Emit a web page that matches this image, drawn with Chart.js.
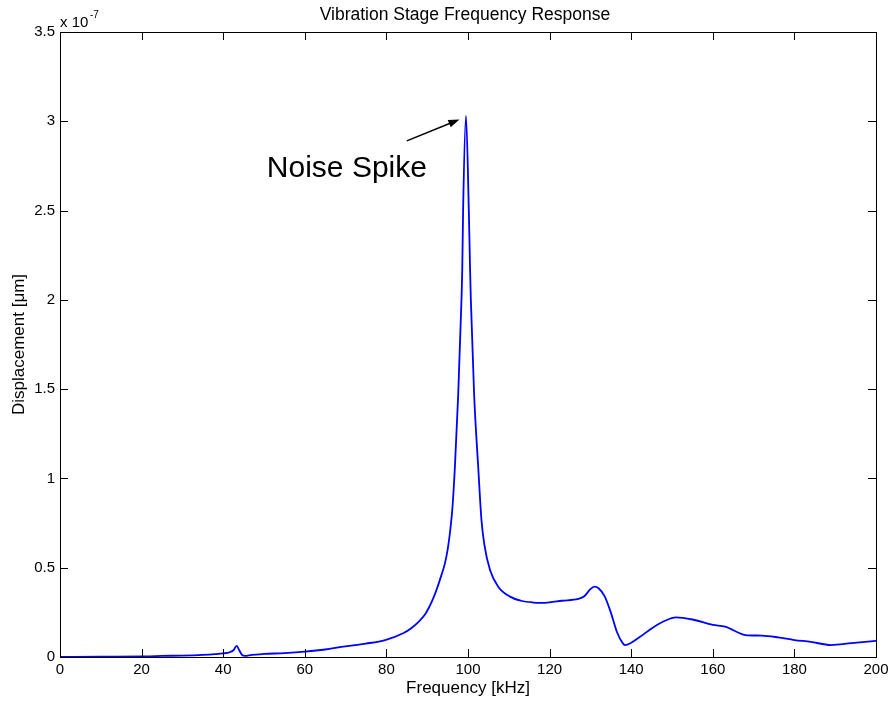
<!DOCTYPE html>
<html>
<head>
<meta charset="utf-8">
<script src="https://cdn.jsdelivr.net/npm/chart.js@4.4.0/dist/chart.umd.min.js"></script>
<style>
  body { margin: 0; background: #fff; }
  #wrap { width: 891px; height: 702px; }
</style>
</head>
<body>
<div id="wrap"><canvas id="c" width="891" height="702"></canvas></div>
<script>
// frequency in kHz, displacement in units of 1e-7
const freq = [0, 10, 20, 22, 25, 30, 35, 38, 40, 41.5, 42.5, 43.3, 44, 44.6, 45.3, 47, 50, 55, 60, 65, 69.4, 75, 79.7,
  84.1, 86, 88, 89.5, 90.5, 91.5, 92.5, 93.5, 94.3, 95, 95.6, 96.2, 96.8, 97.6, 98.4, 98.6, 98.8, 99.5,
  100.2, 100.5, 100.7, 101.5, 102.5, 103.3, 104.0, 105.4, 107.4, 110.3, 113, 116, 118, 120,
  123, 127, 128.5, 130, 131, 132, 133.5, 135, 136.5, 138, 138.5, 140, 142, 145, 148, 151,
  155, 160, 163, 168, 172, 176, 180, 184, 189, 194, 200];
const disp = [0, 0.002, 0.003, 0.004, 0.006, 0.008, 0.012, 0.016, 0.02, 0.026, 0.038, 0.062, 0.035, 0.012, 0.006, 0.012, 0.017, 0.022, 0.03, 0.042, 0.058, 0.075, 0.095,
  0.133, 0.16, 0.2, 0.24, 0.28, 0.33, 0.39, 0.46, 0.52, 0.6, 0.7, 0.84, 1.07, 1.47, 2.0, 2.18, 2.5, 3.03,
  2.5, 2.18, 2.0, 1.47, 1.065, 0.767, 0.63, 0.487, 0.394, 0.338, 0.315, 0.305, 0.303, 0.306,
  0.315, 0.325, 0.34, 0.38, 0.394, 0.385, 0.34, 0.25, 0.14, 0.075, 0.067, 0.08, 0.11, 0.16, 0.2, 0.222,
  0.21, 0.18, 0.17, 0.123, 0.12, 0.11, 0.095, 0.085, 0.067, 0.078, 0.09];
const xTicks = [0, 20, 40, 60, 80, 100, 120, 140, 160, 180, 200];
const yTicks = [0, 0.5, 1, 1.5, 2, 2.5, 3, 3.5];

const chartTitle = 'Vibration Stage Frequency Response';
const xLabel = 'Frequency [kHz]';
const yLabel = 'Displacement [\u03bcm]';
const noteText = 'Noise Spike';

const FONT = '"Liberation Sans", Arial, sans-serif';

const matlabFrame = {
  id: 'matlabFrame',
  afterDraw(chart) {
    const ctx = chart.ctx;
    const a = chart.chartArea;
    const xs = chart.scales.x, ys = chart.scales.y;
    ctx.save();
    ctx.strokeStyle = '#000';
    ctx.lineWidth = 1;
    // box
    ctx.strokeRect(Math.round(a.left) + 0.5, Math.round(a.top) + 0.5,
      Math.round(a.right - a.left), Math.round(a.bottom - a.top));
    // inward ticks on all four sides
    const tl = 8;
    ctx.beginPath();
    xTicks.forEach(v => {
      const px = Math.round(xs.getPixelForValue(v)) + 0.5;
      ctx.moveTo(px, a.bottom); ctx.lineTo(px, a.bottom - tl);
      ctx.moveTo(px, a.top); ctx.lineTo(px, a.top + tl);
    });
    yTicks.forEach(v => {
      const py = Math.round(ys.getPixelForValue(v)) + 0.5;
      ctx.moveTo(a.left, py); ctx.lineTo(a.left + tl, py);
      ctx.moveTo(a.right, py); ctx.lineTo(a.right - tl, py);
    });
    ctx.stroke();

    // title
    ctx.fillStyle = '#000';
    ctx.font = '17.5px ' + FONT;
    ctx.textAlign = 'center';
    ctx.textBaseline = 'alphabetic';
    ctx.fillText(chartTitle, 465, 20);

    // exponent label
    ctx.textAlign = 'left';
    ctx.font = '15px ' + FONT;
    ctx.fillText('x 10', a.left, 26.5);
    ctx.font = '10px ' + FONT;
    ctx.fillText('-7', a.left + 30, 18);

    // annotation
    ctx.font = '30px ' + FONT;
    ctx.fillText(noteText, xs.getPixelForValue(50.7), ys.getPixelForValue(2.69));
    const x0 = xs.getPixelForValue(85.0), y0 = ys.getPixelForValue(2.89);
    const x1 = xs.getPixelForValue(97.9), y1 = ys.getPixelForValue(3.01);
    const ang = Math.atan2(y1 - y0, x1 - x0);
    ctx.lineWidth = 1.5;
    ctx.beginPath();
    ctx.moveTo(x0, y0);
    ctx.lineTo(x1 - 8 * Math.cos(ang), y1 - 8 * Math.sin(ang));
    ctx.stroke();
    ctx.beginPath();
    ctx.moveTo(x1, y1);
    ctx.lineTo(x1 - 11 * Math.cos(ang) + 4 * Math.sin(ang), y1 - 11 * Math.sin(ang) - 4 * Math.cos(ang));
    ctx.lineTo(x1 - 11 * Math.cos(ang) - 4 * Math.sin(ang), y1 - 11 * Math.sin(ang) + 4 * Math.cos(ang));
    ctx.closePath();
    ctx.fill();
    ctx.restore();
  }
};

const points = freq.map((f, i) => ({ x: f, y: disp[i] }));

new Chart(document.getElementById('c'), {
  type: 'line',
  data: {
    datasets: [{
      data: points,
      borderColor: '#0000ff',
      borderWidth: 1.8,
      pointRadius: 0,
      cubicInterpolationMode: 'monotone',
      fill: false
    }]
  },
  options: {
    responsive: false,
    animation: false,
    layout: { padding: { left: 0, top: 32, right: 15, bottom: 0 } },
    plugins: { legend: { display: false }, tooltip: { enabled: false }, title: { display: false } },
    scales: {
      x: {
        type: 'linear',
        min: 0, max: 200,
        afterFit(s) { s.height = 45; s.paddingRight = 0; s.paddingLeft = 0; },
        afterBuildTicks(s) { s.ticks = xTicks.map(v => ({ value: v })); },
        grid: { display: false, drawTicks: false },
        border: { display: false },
        ticks: { color: '#000', font: { family: FONT, size: 15 }, padding: 4, maxRotation: 0 },
        title: { display: true, text: xLabel, color: '#000', font: { family: FONT, size: 17 }, padding: { top: 0, bottom: 3 } }
      },
      y: {
        min: 0, max: 3.5,
        afterFit(s) { s.width = 60; s.paddingTop = 0; s.paddingBottom = 0; },
        afterBuildTicks(s) { s.ticks = yTicks.map(v => ({ value: v })); },
        grid: { display: false, drawTicks: false },
        border: { display: false },
        ticks: { color: '#000', font: { family: FONT, size: 15 }, padding: 5, callback: v => String(v) },
        title: { display: true, text: yLabel, color: '#000', font: { family: FONT, size: 17 }, padding: { top: 9, bottom: 0 } }
      }
    }
  },
  plugins: [matlabFrame]
});
</script>
</body>
</html>
